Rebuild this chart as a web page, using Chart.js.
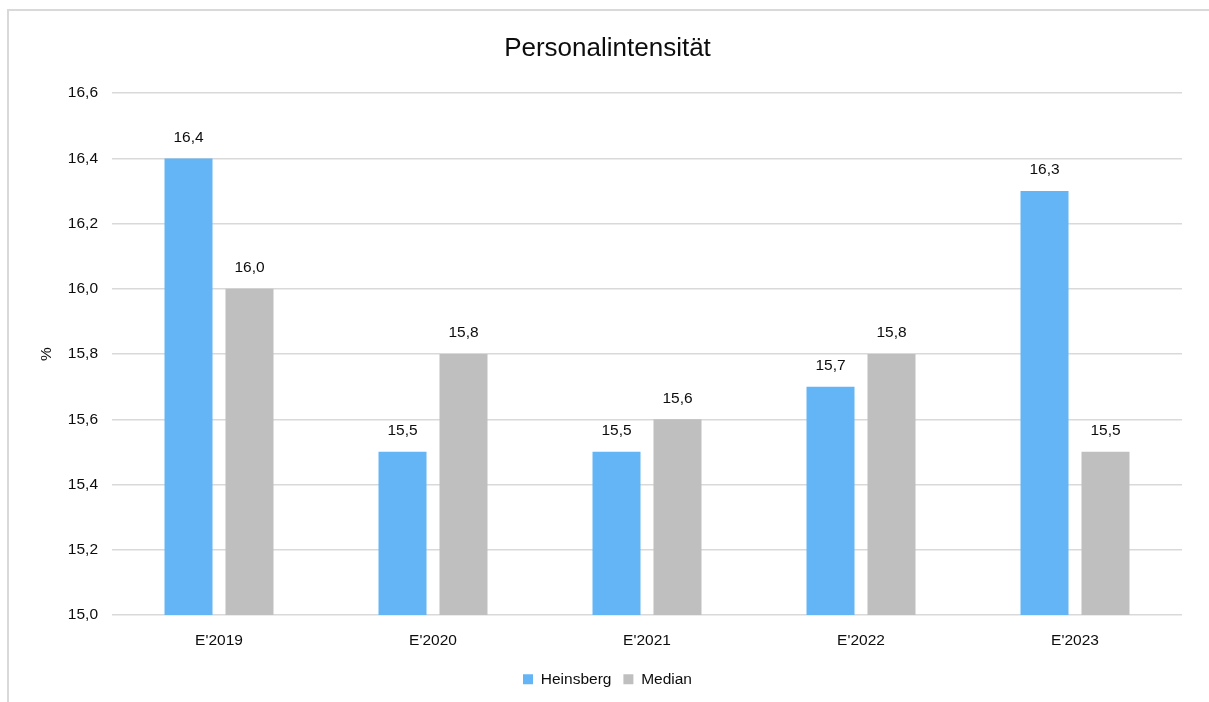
<!DOCTYPE html>
<html>
<head>
<meta charset="utf-8">
<script src="https://cdn.jsdelivr.net/npm/chart.js@4.4.0/dist/chart.umd.min.js"></script>
<style>
  html, body { margin: 0; padding: 0; background: #fff; }
  #wrap { position: relative; width: 1209px; height: 702px; overflow: hidden; }
  #frame { position: absolute; left: 7px; top: 9px; right: -10px; bottom: -10px;
           border-left: 2px solid #d9d9d9; border-top: 2px solid #d9d9d9; }
  canvas { position: absolute; left: 0; top: 0; }
</style>
</head>
<body>
<div id="wrap">
  <div id="frame"></div>
  <canvas id="chart" width="1209" height="702"></canvas>
</div>
<script>
// Daten
const categories = ["E'2019", "E'2020", "E'2021", "E'2022", "E'2023"];
const heinsberg = [16.4, 15.5, 15.5, 15.7, 16.3];
const median = [16.0, 15.8, 15.6, 15.8, 15.5];
const yTicks = [15.0, 15.2, 15.4, 15.6, 15.8, 16.0, 16.2, 16.4, 16.6];

const FONT = '"Liberation Sans", Arial, sans-serif';
const TEXT = '#0d0d0d';
const fmt = v => v.toFixed(1).replace('.', ',');

// Werte über den Balken
const valueLabels = {
  id: 'valueLabels',
  afterDatasetsDraw(chart) {
    const { ctx } = chart;
    ctx.save();
    ctx.font = '15.5px ' + FONT;
    ctx.fillStyle = TEXT;
    ctx.textAlign = 'center';
    ctx.textBaseline = 'middle';
    chart.data.datasets.forEach((ds, i) => {
      chart.getDatasetMeta(i).data.forEach((bar, j) => {
        ctx.fillText(fmt(ds.data[j]), bar.x, bar.y - 21);
      });
    });
    ctx.restore();
  }
};

new Chart(document.getElementById('chart'), {
  type: 'bar',
  data: {
    labels: categories,
    datasets: [
      { label: 'Heinsberg', data: heinsberg, backgroundColor: '#64b5f6' },
      { label: 'Median', data: median, backgroundColor: '#bfbfbf' }
    ]
  },
  options: {
    responsive: false,
    animation: false,
    layout: { padding: { top: 20, left: 33, right: 27, bottom: 5 } },
    datasets: { bar: { categoryPercentage: 0.57, barPercentage: 0.787 } },
    plugins: {
      title: {
        display: true,
        text: 'Personalintensität',
        color: TEXT,
        font: { family: FONT, size: 26, weight: 'normal' },
        padding: { top: 13, bottom: 29 }
      },
      legend: {
        position: 'bottom',
        labels: {
          color: TEXT,
          font: { family: FONT, size: 15.5 },
          boxWidth: 10,
          boxHeight: 10,
          padding: 12
        }
      },
      tooltip: { enabled: false }
    },
    scales: {
      x: {
        grid: { display: false },
        border: { display: false },
        ticks: { color: TEXT, font: { family: FONT, size: 15.5 }, padding: 9 }
      },
      y: {
        min: 15,
        max: 16.6,
        afterFit(scale) { scale.width = 79; },
        afterBuildTicks(scale) { scale.ticks = yTicks.map(v => ({ value: v })); },
        grid: { color: '#d9d9d9', lineWidth: 1.5, drawTicks: false },
        border: { display: false },
        title: {
          display: true,
          text: '%',
          color: TEXT,
          font: { family: FONT, size: 15.5 },
          padding: { top: 4, bottom: 4 }
        },
        ticks: {
          color: TEXT,
          font: { family: FONT, size: 15.5 },
          padding: 14,
          callback: v => fmt(v)
        }
      }
    }
  },
  plugins: [valueLabels]
});
</script>
</body>
</html>
